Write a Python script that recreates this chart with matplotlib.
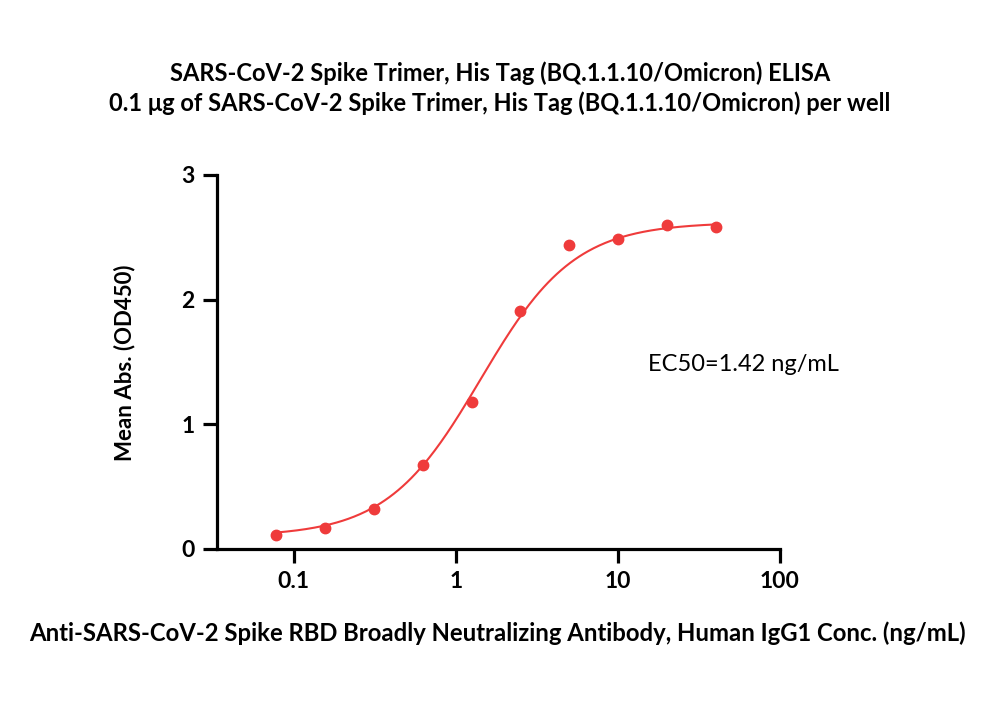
import numpy as np
import matplotlib
matplotlib.use("Agg")
import matplotlib.pyplot as plt
from matplotlib.ticker import FixedLocator, NullLocator

plt.rcParams['font.family'] = ['Lato', 'DejaVu Sans']

# measured points
conc = [0.078, 0.156, 0.3125, 0.625, 1.25, 2.5, 5, 10, 20, 40]
od450 = [0.11, 0.17, 0.32, 0.67, 1.18, 1.91, 2.44, 2.49, 2.60, 2.58]

# 4PL fit parameters
fit_bottom = 0.10
fit_top = 2.62
fit_ec50 = 1.42
fit_hill = 1.5

x_ticks = [0.1, 1, 10, 100]
x_ticklabels = ['0.1', '1', '10', '100']
y_ticks = [0, 1, 2, 3]

red = '#ef3b3b'

fig = plt.figure(figsize=(10, 7.09), dpi=100)
ax = fig.add_axes([0.217, 0.2257, 0.563, 0.5275])

xf = np.logspace(np.log10(conc[0]), np.log10(conc[-1]), 300)
yf = fit_bottom + (fit_top - fit_bottom) / (1 + (fit_ec50 / xf) ** fit_hill)
ax.plot(xf, yf, color=red, lw=1.5, zorder=2)
ax.plot(conc, od450, 'o', color=red, ms=7.5, zorder=3, clip_on=False)

ax.set_xscale('log')
ax.set_xlim(0.0336, 100)
ax.set_ylim(0, 3)
ax.xaxis.set_major_locator(FixedLocator(x_ticks))
ax.xaxis.set_minor_locator(NullLocator())
ax.set_xticklabels(x_ticklabels)
ax.set_yticks(y_ticks)

for s in ['top', 'right']:
    ax.spines[s].set_visible(False)
for s in ['left', 'bottom']:
    ax.spines[s].set_linewidth(2.3)
ax.tick_params(width=2.3, length=10, labelsize=16.5, pad=6)
for lab in ax.get_xticklabels() + ax.get_yticklabels():
    lab.set_fontweight('bold')

ax.text(15.4, 1.48, 'EC50=1.42 ng/mL', fontsize=17, va='center', ha='left')

fig.text(0.5, 0.897, 'SARS-CoV-2 Spike Trimer, His Tag (BQ.1.1.10/Omicron) ELISA',
         ha='center', va='center', fontsize=17, fontweight='bold')
fig.text(0.5, 0.855, '0.1 μg of SARS-CoV-2 Spike Trimer, His Tag (BQ.1.1.10/Omicron) per well',
         ha='center', va='center', fontsize=17, fontweight='bold')
fig.text(0.497, 0.107, 'Anti-SARS-CoV-2 Spike RBD Broadly Neutralizing Antibody, Human IgG1 Conc. (ng/mL)',
         ha='center', va='center', fontsize=17.2, fontweight='bold')
fig.text(0.125, 0.488, 'Mean Abs. (OD450)', ha='center', va='center',
         rotation=90, fontsize=16, fontweight='bold')

fig.savefig('out.png', dpi=100)
